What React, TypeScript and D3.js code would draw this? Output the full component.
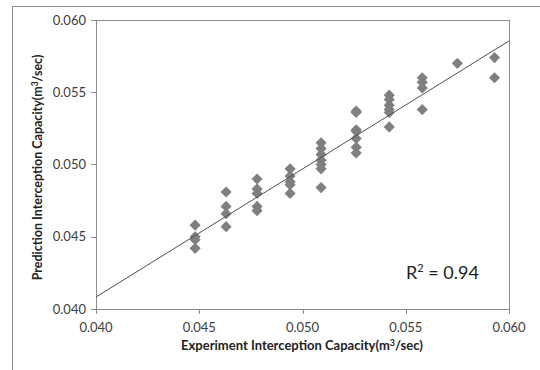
import React from "react";
import * as d3 from "d3";

const expX: number[] = [
  0.0448, 0.0448, 0.0448, 0.0448,
  0.0463, 0.0463, 0.0463, 0.0463,
  0.0478, 0.0478, 0.0478, 0.0478, 0.0478,
  0.0494, 0.0494, 0.0494, 0.0494, 0.0494,
  0.0509, 0.0509, 0.0509, 0.0509, 0.0509, 0.0509, 0.0509,
  0.0526, 0.0526, 0.0526, 0.0526, 0.0526, 0.0526, 0.0526,
  0.0542, 0.0542, 0.0542, 0.0542, 0.0542, 0.0542,
  0.0558, 0.0558, 0.0558, 0.0558,
  0.0575,
  0.0593, 0.0593,
];
const predY: number[] = [
  0.0458, 0.0450, 0.0448, 0.0442,
  0.0481, 0.0471, 0.0466, 0.0457,
  0.0490, 0.0483, 0.0480, 0.0471, 0.0468,
  0.0497, 0.0492, 0.0488, 0.0486, 0.0480,
  0.0515, 0.0511, 0.0507, 0.0503, 0.0500, 0.0497, 0.0484,
  0.0537, 0.0536, 0.0524, 0.0523, 0.0518, 0.0512, 0.0508,
  0.0548, 0.0545, 0.0541, 0.0538, 0.0536, 0.0526,
  0.0560, 0.0557, 0.0553, 0.0538,
  0.0570,
  0.0574, 0.0560,
];
const trendX: number[] = [0.040, 0.060];
const trendY: number[] = [0.04083, 0.05855];
const xTicks: number[] = [0.040, 0.045, 0.050, 0.055, 0.060];
const yTicks: number[] = [0.040, 0.045, 0.050, 0.055, 0.060];
const xTitle = "Experiment Interception Capacity(m";
const yTitle = "Prediction Interception Capacity(m";
const rLabel = "0.94";

const FONT = "Lato, 'Open Sans', sans-serif";

export default function App() {
  const L = 96, R = 509, T = 20, B = 309;
  const x = d3.scaleLinear().domain([0.04, 0.06]).range([L, R]);
  const y = d3.scaleLinear().domain([0.04, 0.06]).range([B, T]);
  const diamond = d3.symbol().type(d3.symbolSquare).size(62)() as string;
  const line = d3.line<number>().x((d, i) => x(trendX[i])).y((d) => y(d));
  const fmt = d3.format(".3f");
  const gray = "#8c8c8c";
  return (
    <svg width={540} height={370} style={{ position: "absolute", left: 0, top: 0, background: "#fff" }}>
      <rect x={0} y={0} width={540} height={370} fill="#fff" />
      <path d="M12.5,370 V6.5 H540" fill="none" stroke={gray} strokeWidth={1} />
      <rect x={L + 0.5} y={T + 0.5} width={R - L} height={B - T} fill="none" stroke={gray} strokeWidth={1} />
      {yTicks.map((t) => (
        <g key={"y" + t}>
          <line x1={L - 5} x2={L} y1={Math.round(y(t)) + 0.5} y2={Math.round(y(t)) + 0.5} stroke={gray} />
          <text x={L - 10} y={y(t) + 4.5} textAnchor="end" fontFamily={FONT} fontSize={13} fill="#404040">{fmt(t)}</text>
        </g>
      ))}
      {xTicks.map((t) => (
        <g key={"x" + t}>
          <line x1={Math.round(x(t)) + 0.5} x2={Math.round(x(t)) + 0.5} y1={B} y2={B + 5} stroke={gray} />
          <text x={x(t)} y={B + 23} textAnchor="middle" fontFamily={FONT} fontSize={13} fill="#404040">{fmt(t)}</text>
        </g>
      ))}
      <text x={302} y={350} textAnchor="middle" fontFamily={FONT} fontSize={13} fontWeight="bold" fill="#222">
        {xTitle}<tspan dy={-4.5} fontSize={9}>3</tspan><tspan dy={4.5}>/sec)</tspan>
      </text>
      <text transform={`translate(42,${(T + B) / 2 + 3}) rotate(-90)`} textAnchor="middle" fontFamily={FONT} fontSize={12.5} fontWeight="bold" fill="#222">
        {yTitle}<tspan dy={-4.5} fontSize={8.5}>3</tspan><tspan dy={4.5}>/sec)</tspan>
      </text>
      {expX.map((v, i) => (
        <path key={i} d={diamond} transform={`translate(${x(v)},${y(predY[i])}) rotate(45)`} fill="#7f7f7f" />
      ))}
      <path d={line(trendY) || ""} fill="none" stroke="#505050" strokeWidth={1} />
      <text x={406} y={279} fontFamily={FONT} fontSize={18} fill="#222">
        R<tspan dy={-7} fontSize={11}>2</tspan><tspan dy={7}>{" = " + rLabel}</tspan>
      </text>
    </svg>
  );
}
